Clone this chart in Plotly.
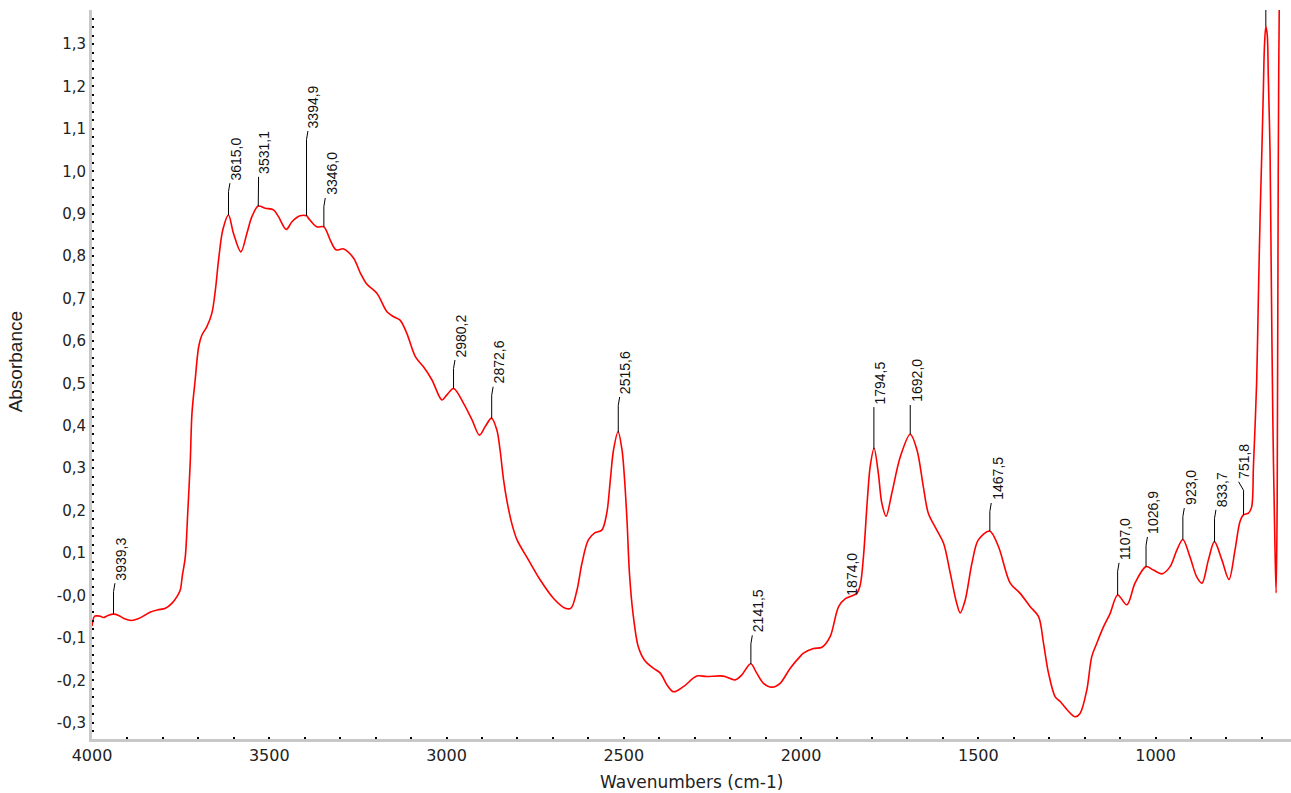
import numpy as np
import plotly.graph_objects as go

# Absorbance spectrum (wavenumber in cm-1, descending)
wavenumber = [
    4000, 3993, 3985, 3976, 3968, 3955, 3939, 3925, 3910, 3889, 3870, 3850,
    3835, 3815, 3793, 3774, 3760, 3751, 3745, 3737, 3730, 3723, 3718, 3709,
    3699, 3690, 3676, 3662, 3652, 3643, 3631, 3615, 3601, 3580, 3563, 3549,
    3531, 3511, 3488, 3474, 3452, 3436, 3413, 3395, 3389, 3366, 3346, 3328,
    3312, 3290, 3262, 3243, 3225, 3196, 3168, 3149, 3131, 3112, 3088, 3065,
    3041, 3013, 2999, 2980, 2952, 2928, 2907, 2891, 2873, 2858, 2849, 2839,
    2830, 2816, 2801, 2769, 2736, 2698, 2665, 2649, 2632, 2618, 2600, 2581,
    2562, 2548, 2538, 2529, 2516, 2505, 2499, 2491, 2484, 2474, 2459, 2442,
    2416, 2397, 2378, 2360, 2332, 2294, 2266, 2219, 2186, 2167, 2142, 2125,
    2106, 2082, 2059, 2031, 2003, 1993, 1965, 1941, 1918, 1894, 1874, 1843,
    1833, 1824, 1813, 1805, 1794, 1782, 1772, 1760, 1744, 1720, 1692, 1673,
    1655, 1641, 1617, 1598, 1579, 1561, 1551, 1537, 1518, 1500, 1468, 1443,
    1410, 1382, 1354, 1330, 1316, 1302, 1283, 1269, 1249, 1227, 1213, 1194,
    1180, 1166, 1147, 1128, 1107, 1081, 1058, 1027, 1006, 982, 959, 940,
    923, 903, 884, 869, 851, 834, 813, 793, 776, 762, 752, 738,
    729, 724, 715, 710, 705, 700, 696, 693, 689, 685, 682, 677,
    674, 669, 664, 660, 657, 654, 649, 640,
]
absorbance = [
    -0.072, -0.049, -0.048, -0.049, -0.052, -0.047, -0.044, -0.047, -0.054, -0.059, -0.055, -0.046,
    -0.039, -0.034, -0.030, -0.018, -0.002, 0.013, 0.048, 0.090, 0.194, 0.312, 0.430, 0.508,
    0.587, 0.614, 0.634, 0.665, 0.720, 0.791, 0.862, 0.897, 0.854, 0.810, 0.854, 0.893,
    0.918, 0.913, 0.909, 0.893, 0.863, 0.881, 0.895, 0.895, 0.889, 0.869, 0.869, 0.838,
    0.815, 0.817, 0.795, 0.760, 0.734, 0.712, 0.669, 0.657, 0.649, 0.618, 0.563, 0.539,
    0.508, 0.461, 0.473, 0.488, 0.453, 0.414, 0.378, 0.398, 0.418, 0.390, 0.343, 0.272,
    0.225, 0.170, 0.131, 0.084, 0.037, -0.007, -0.030, -0.030, 0.013, 0.076, 0.131, 0.148,
    0.154, 0.194, 0.272, 0.343, 0.386, 0.343, 0.288, 0.178, 0.052, -0.042, -0.121, -0.152,
    -0.172, -0.183, -0.211, -0.227, -0.215, -0.190, -0.191, -0.190, -0.199, -0.187, -0.161, -0.183,
    -0.207, -0.216, -0.207, -0.172, -0.144, -0.136, -0.125, -0.122, -0.097, -0.026, -0.007, 0.005,
    0.025, 0.091, 0.225, 0.304, 0.347, 0.288, 0.217, 0.187, 0.241, 0.327, 0.380, 0.343,
    0.256, 0.194, 0.154, 0.123, 0.052, -0.018, -0.041, -0.011, 0.076, 0.131, 0.152, 0.115,
    0.029, 0.005, -0.026, -0.050, -0.113, -0.183, -0.239, -0.250, -0.270, -0.286, -0.278, -0.223,
    -0.144, -0.113, -0.074, -0.042, 0.001, -0.022, 0.029, 0.068, 0.060, 0.051, 0.068, 0.107,
    0.132, 0.091, 0.044, 0.029, 0.084, 0.127, 0.084, 0.038, 0.107, 0.174, 0.190, 0.194,
    0.209, 0.304, 0.500, 0.704, 0.900, 1.054, 1.191, 1.293, 1.342, 1.321, 1.223, 1.042,
    0.783, 0.400, 0.150, 0.006, 0.220, 0.990, 1.600, 1.900,
]

# Picked peaks (cm-1)
peak_wavenumbers = [
    3939.3, 3615.0, 3531.1, 3394.9, 3346.0, 2980.2, 2872.6, 2515.6, 2141.5,
    1874.0, 1794.5, 1692.0, 1467.5, 1107.0, 1026.9, 923.0, 833.7, 751.8,
]
# Peak that runs off the top of the scale (its label is outside the plot)
offscale_peak = 689.0

x_tick_values = [4000, 3500, 3000, 2500, 2000, 1500, 1000]
x_tick_labels = ["4000", "3500", "3000", "2500", "2000", "1500", "1000"]
y_tick_values = [-0.3, -0.2, -0.1, 0.0, 0.1, 0.2, 0.3, 0.4, 0.5, 0.6, 0.7,
                 0.8, 0.9, 1.0, 1.1, 1.2, 1.3]
y_tick_labels = ["-0,3", "-0,2", "-0,1", "-0,0", "0,1", "0,2", "0,3", "0,4",
                 "0,5", "0,6", "0,7", "0,8", "0,9", "1,0", "1,1", "1,2", "1,3"]

# Leader-line layout for the peak labels: top of each leader (absorbance)
# and the small sideways kink at its upper end (cm-1)
leader_tops = [0.029, 0.972, 0.987, 1.095, 0.937, 0.555, 0.492, 0.468, -0.094,
               None, 0.444, 0.449, 0.218, 0.077, 0.138, 0.206, 0.202, 0.268]
leader_kinks = [-4, -4, -1, -4, -4, -4, -4, -4, -4,
                0, 0, 0, -4, -4, -4, -4, -4, 14]

wn = np.array(wavenumber, dtype=float)
ab = np.array(absorbance, dtype=float)
order = np.argsort(wn)


def value_at(w):
    return float(np.interp(w, wn[order], ab[order]))


fig = go.Figure()
fig.add_trace(go.Scatter(
    x=wn, y=ab, mode="lines",
    line=dict(color="#ff0000", width=1.6, shape="spline", smoothing=0.9),
    hoverinfo="skip",
))

# Leader lines from each peak up to its label
lx, ly = [], []
annotations = []
for w, top, kink in zip(peak_wavenumbers, leader_tops, leader_kinks):
    peak_val = value_at(w)
    if top is None:
        end_x, end_y = w, peak_val
    else:
        end_x, end_y = w + kink, top
        knee = top - 0.02 if kink != 0 else top
        lx += [w, w, end_x, None]
        ly += [peak_val, knee, end_y, None]
    annotations.append(dict(
        x=end_x, y=end_y, xref="x", yref="y",
        text=f"{w:.1f}".replace(".", ","),
        textangle=-90, showarrow=False,
        xanchor="center", yanchor="bottom", xshift=6, yshift=1,
        font=dict(family="Liberation Sans", size=14, color="#111111"),
    ))

lx += [offscale_peak, offscale_peak, None]
ly += [value_at(offscale_peak), 1.6, None]

fig.add_trace(go.Scatter(
    x=lx, y=ly, mode="lines",
    line=dict(color="#000000", width=1),
    hoverinfo="skip",
))

# Axis titles
annotations.append(dict(
    text="Wavenumbers (cm-1)", xref="paper", yref="paper",
    x=0.5, y=-0.059, xanchor="center", yanchor="middle", showarrow=False,
    font=dict(family="DejaVu Sans", size=17, color="#222222"),
))
annotations.append(dict(
    text="Absorbance", xref="paper", yref="paper",
    x=-0.064, y=0.517, xanchor="center", yanchor="middle", showarrow=False,
    textangle=-90,
    font=dict(family="Liberation Sans", size=19, color="#222222"),
))

axis_common = dict(
    showline=True, linecolor="#c8c8c8", linewidth=3,
    ticks="inside", ticklen=2, tickwidth=1.5, tickcolor="#000000",
    showgrid=False, zeroline=False, tickmode="array",
)

fig.update_layout(
    width=1291, height=793,
    margin=dict(l=92, r=0, t=10, b=54),
    plot_bgcolor="white", paper_bgcolor="white",
    showlegend=False,
    annotations=annotations,
    xaxis=dict(
        range=[4000, 618],
        tickvals=x_tick_values, ticktext=x_tick_labels,
        tickfont=dict(family="DejaVu Sans", size=16, color="#222222"),
        minor=dict(tickmode="linear", tick0=0, dtick=100, ticks="inside",
                   ticklen=2, tickwidth=1.5, tickcolor="#000000", showgrid=False),
        **axis_common,
    ),
    yaxis=dict(
        range=[-0.3383, 1.3802],
        tickvals=y_tick_values, ticktext=y_tick_labels,
        tickfont=dict(family="DejaVu Sans", size=15, color="#222222"),
        minor=dict(tickmode="linear", tick0=0, dtick=0.02, ticks="inside",
                   ticklen=2, tickwidth=1.5, tickcolor="#000000", showgrid=False),
        **axis_common,
    ),
)

fig.write_html("out.html")
